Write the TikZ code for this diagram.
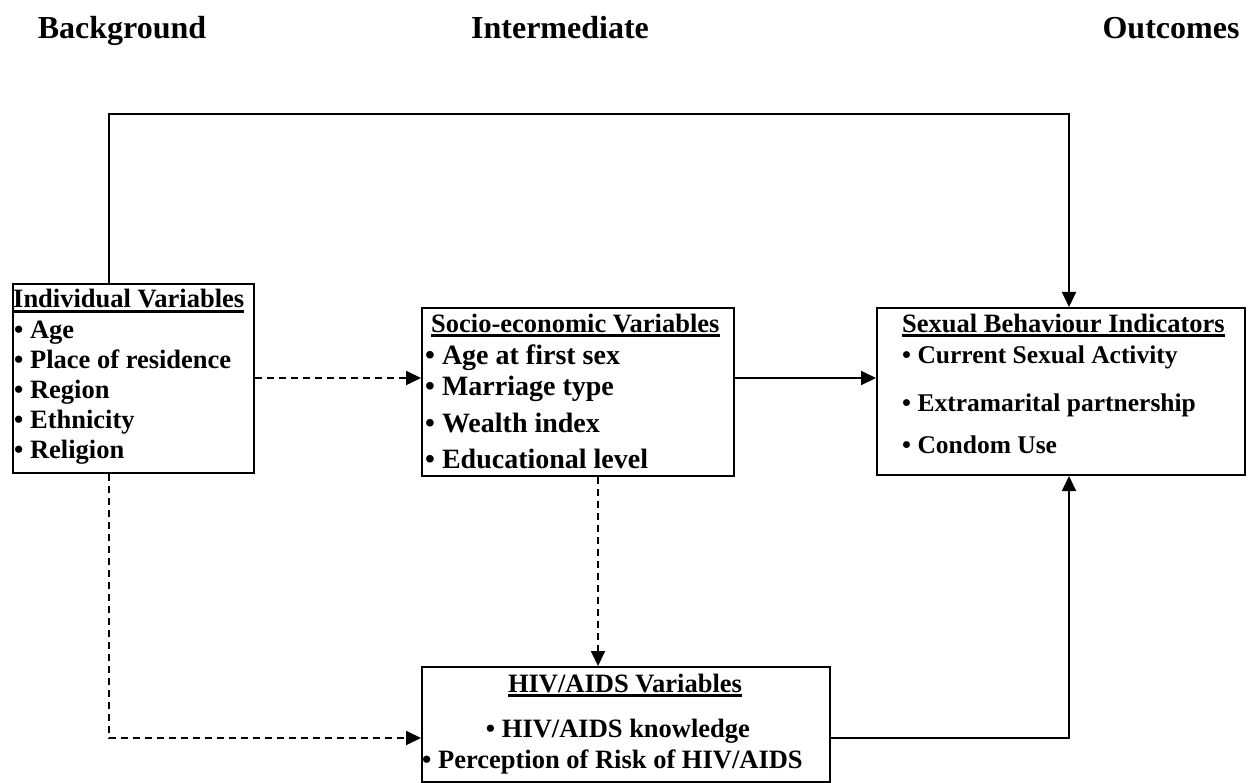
\documentclass[tikz,border=0pt]{standalone}
\usepackage{fontspec}
\setmainfont{Liberation Serif}
\usetikzlibrary{arrows.meta}
\begin{document}
\begin{tikzpicture}[x=1pt,y=-1pt,
  box/.style={draw,line width=2pt,rectangle,inner sep=0pt,anchor=north west},
  txt/.style={inner sep=0pt,anchor=base west,font=\fontsize{26.5}{30}\selectfont\bfseries},
  txtc/.style={txt,anchor=base},
  head/.style={inner sep=0pt,anchor=base,font=\fontsize{32}{36}\selectfont\bfseries},
  uline/.style={line width=2.4pt},
  conn/.style={line width=1.8pt,-{Triangle[length=15pt,width=14pt]}},
  dconn/.style={conn,dash pattern=on 7pt off 5pt}]
\useasboundingbox (0,0) rectangle (1249,783);
% headers
\node[head] (h1) at (122,39) {Background};
\node[head] (h2) at (560,39) {Intermediate};
\node[head] (h3) at (1171,39) {Outcomes};
% boxes
\node[box,minimum width=241pt,minimum height=189pt] (ind) at (12,283) {};
\node[box,minimum width=312pt,minimum height=168pt] (soc) at (421,307) {};
\node[box,minimum width=368pt,minimum height=167pt] (sex) at (876,307) {};
\node[box,minimum width=408pt,minimum height=115pt] (hiv) at (421,666) {};
% individual
\node[txt] (it) at (13,308) {Individual Variables};
\draw[uline] ([yshift=-3.5pt]it.base west) -- ([yshift=-3.5pt]it.base east);
\node[txt] (i1) at (14,338) {• Age};
\node[txt] (i2) at (14,368) {• Place of residence};
\node[txt] (i3) at (14,398) {• Region};
\node[txt] (i4) at (14,428) {• Ethnicity};
\node[txt] (i5) at (14,458) {• Religion};
% socio
\node[txt] (st) at (431,332) {Socio-economic Variables};
\draw[uline] ([yshift=-3.5pt]st.base west) -- ([yshift=-3.5pt]st.base east);
\node[txt,font=\fontsize{28}{30}\selectfont\bfseries] (s1) at (425,364) {• Age at first sex};
\node[txt,font=\fontsize{28}{30}\selectfont\bfseries] (s2) at (425,395) {• Marriage type};
\node[txt,font=\fontsize{28}{30}\selectfont\bfseries] (s3) at (425,432) {• Wealth index};
\node[txt,font=\fontsize{28}{30}\selectfont\bfseries] (s4) at (425,468) {• Educational level};
% sexual
\node[txt] (xt) at (902,332) {Sexual Behaviour Indicators};
\draw[uline] ([yshift=-3.5pt]xt.base west) -- ([yshift=-3.5pt]xt.base east);
\node[txt,font=\fontsize{25.5}{30}\selectfont\bfseries] (x1) at (902,363) {• Current Sexual Activity};
\node[txt,font=\fontsize{25.5}{30}\selectfont\bfseries] (x2) at (902,411) {• Extramarital partnership};
\node[txt,font=\fontsize{25.5}{30}\selectfont\bfseries] (x3) at (902,453) {• Condom Use};
% hiv
\node[txtc] (ht) at (625,692) {HIV/AIDS Variables};
\draw[uline] ([yshift=-3.5pt]ht.base west) -- ([yshift=-3.5pt]ht.base east);
\node[txtc] (h4) at (618,737) {• HIV/AIDS knowledge};
\node[txt] (h5) at (422,768) {• Perception of Risk of HIV/AIDS};
% helper coordinates
\coordinate (tl) at (109,114);
\coordinate (tr) at (1069,114);
\coordinate (mid) at (0,378);
\coordinate (vx) at (598,0);
\coordinate (bot) at (0,738);
% connectors
\draw[conn] (ind.north -| tl) -- (tl) -- (tr) -- (sex.north -| tr);
\draw[dconn] (ind.east |- mid) -- (soc.west |- mid);
\draw[conn] (soc.east |- mid) -- (sex.west |- mid);
\draw[dconn] (soc.south -| vx) -- (hiv.north -| vx);
\draw[dconn] (ind.south -| tl) |- (hiv.west |- bot);
\draw[conn] (hiv.east |- bot) -| (sex.south -| tr);
\end{tikzpicture}
\end{document}
